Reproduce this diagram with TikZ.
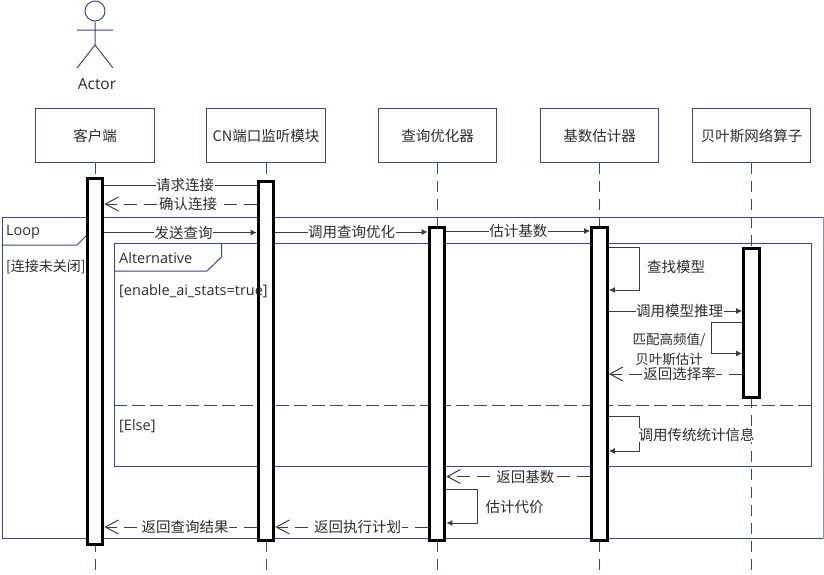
\documentclass[tikz,border=0pt]{standalone}
\usepackage{fontspec}
\setmainfont{Open Sans}
\newfontfamily\cjkfont{Noto Sans CJK SC}
\usepackage{xcolor}
\definecolor{seqline}{RGB}{62,72,122}
\definecolor{seqmsg}{RGB}{60,60,60}
\definecolor{seqtext}{RGB}{45,45,45}
\usetikzlibrary{arrows.meta,positioning}
\tikzset{
  headbox/.style={draw=seqline, fill=white, line width=1pt, minimum width=118.5pt, minimum height=54pt, inner sep=0pt, text=seqtext, font=\fontsize{14.5}{16}\cjkfont},
  lifeline/.style={draw=seqline, line width=1pt, dash pattern=on 11pt off 7pt},
  bar/.style={draw=black, fill=white, line width=3.2pt, minimum width=15.5pt, inner sep=0pt, anchor=north},
  frame/.style={draw=seqline, line width=1pt},
  msg/.style={draw=seqmsg, line width=1pt, -{Latex[length=6pt,width=6pt]}},
  reply/.style={draw=seqmsg, line width=1pt, dash pattern=on 13pt off 7pt, -{Straight Barb[length=13pt,width=14pt]}},
  lbl/.style={fill=white, inner sep=0.5pt, text=seqtext, font=\fontsize{14.5}{16}\cjkfont},
  note/.style={inner sep=0pt, anchor=west, text=seqtext, font=\fontsize{14.5}{16}\selectfont},
}
\begin{document}
\begin{tikzpicture}[x=1pt,y=-1pt]
  \useasboundingbox (0,0) rectangle (824,574);

  %% Actor
  \node[draw=seqline, line width=1pt, circle, minimum size=20pt, inner sep=0pt] (head) at (95,11) {};
  \coordinate (hip) at (95,45);
  \draw[frame] (head) -- (hip) (77,30) -- (113,30) (77,68) -- (hip) -- (113,68);
  \node[note, anchor=center, font=\fontsize{15.5}{16}\selectfont] (actor) at (97,84.5) {Actor};

  %% Lifeline heads
  \node[headbox] (client) at (95,135.5) {客户端};
  \node[headbox] (cn) at (266,135.5) {CN端口监听模块};
  \node[headbox] (opt) at (437.5,135.5) {查询优化器};
  \node[headbox] (card) at (599.5,135.5) {基数估计器};
  \node[headbox] (bayes) at (751.5,135.5) {贝叶斯网络算子};

  \foreach \who in {client,cn,opt,card,bayes}
    \draw[lifeline] (\who) -- (\who |- 0,572);

  %% Loop frame
  \node[frame, minimum width=821pt, minimum height=321pt, inner sep=0pt, anchor=north west] (loop) at (1.5,217) {};
  \draw[draw=seqline!60, line width=2pt] (loop.north east) -- (loop.south east);
  \draw[frame] (loop.west |- 0,245) -- (77,245) -- (93,229) -- (93,217);
  \node[note] (looptext) at (6,232.5) {Loop};
  \node[lbl, fill=none, anchor=west, inner sep=0pt, font=\fontsize{14}{16}\cjkfont] (loopcond) at (6,266.5) {[连接未关闭]};

  %% Alternative frame
  \node[frame, minimum width=696.5pt, minimum height=222.5pt, inner sep=0pt, anchor=north west] (alt) at (114,243) {};
  \draw[frame] (alt.west |- 0,271) -- (207,271) -- (221.5,257) -- (221.5,243);
  \draw[frame, dash pattern=on 13pt off 5pt] (alt.west |- 0,405.5) -- (alt.east |- 0,405.5);
  \node[note] (alttext) at (119,258.5) {Alternative};
  \node[note] (elsecond) at (119,426) {[Else]};

  %% Activation bars
  \node[bar, minimum height=366pt] (clientbar) at (95,177) {};
  \node[bar, minimum height=358.5pt] (cnbar) at (266,180) {};
  \node[bar, minimum height=313pt] (optbar) at (437,226) {};
  \node[bar, minimum height=312.5pt] (cardbar) at (599.5,226) {};
  \node[bar, minimum height=149.5pt] (bayesbar) at (751.5,246.5) {};

  %% Guard runs over the bar
  \node[note] (altcond) at (119,291.5) {[enable\_ai\_stats=true]};

  %% Messages
  \draw[msg, -] (clientbar.east |- 0,185) -- node[lbl, pos=0.53] {请求连接} (cnbar.west |- 0,185);
  \draw[reply] (cnbar.west |- 0,204) -- node[lbl, pos=0.45] (ack) {确认连接} (clientbar.east |- 0,204);
  \draw[msg] (clientbar.east |- 0,232.5) -- node[lbl, pos=0.52] {发送查询} (cnbar.west |- 0,232.5);
  \draw[msg] (cnbar.east |- 0,232) -- node[lbl, pos=0.5] {调用查询优化} (optbar.west |- 0,232);
  \draw[msg] (optbar.east |- 0,231) -- node[lbl, pos=0.5] {估计基数} (cardbar.west |- 0,231);

  %% Self call: model lookup
  \draw[msg] (cardbar.east |- 0,247) -- ++(31,0) |- (cardbar.east |- 0,290);
  \node[lbl, anchor=west] (lookup) at (646.5,267) {查找模型};
  \draw[msg] (cardbar.east |- 0,311) -- node[lbl, pos=0.53] {调用模型推理} (bayesbar.west |- 0,311);

  %% Self call: frequent values
  \draw[msg] (bayesbar.west |- 0,322.5) -- ++(-31,0) |- (bayesbar.west |- 0,353.5);
  \node[lbl, align=center, fill=none, font=\fontsize{13.5}{16}\cjkfont] (match) at (669,349.5) {匹配高频值/\\[4.5pt]贝叶斯估计};
  \draw[reply] (bayesbar.west |- 0,374) -- node[lbl, pos=0.47] {返回选择率} (cardbar.east |- 0,374);

  %% Self call: classic statistics
  \draw[msg] (cardbar.east |- 0,416.5) -- ++(31,0) |- (cardbar.east |- 0,451);
  \node[lbl, anchor=west] (stats) at (638,435) {调用传统统计信息};

  %% Returns
  \draw[reply] (cardbar.west |- 0,476.5) -- node[lbl, pos=0.45] {返回基数} (optbar.east |- 0,476.5);
  \draw[msg] (optbar.east |- 0,489.5) -- ++(31,0) |- (optbar.east |- 0,523);
  \node[lbl, anchor=west] (cost) at (485,507) {估计代价};
  \draw[reply] (optbar.west |- 0,527) -- node[lbl, pos=0.46] {返回执行计划} (cnbar.east |- 0,527);
  \draw[reply] (cnbar.west |- 0,527) -- node[lbl, pos=0.47] {返回查询结果} (clientbar.east |- 0,527);
\end{tikzpicture}
\end{document}
